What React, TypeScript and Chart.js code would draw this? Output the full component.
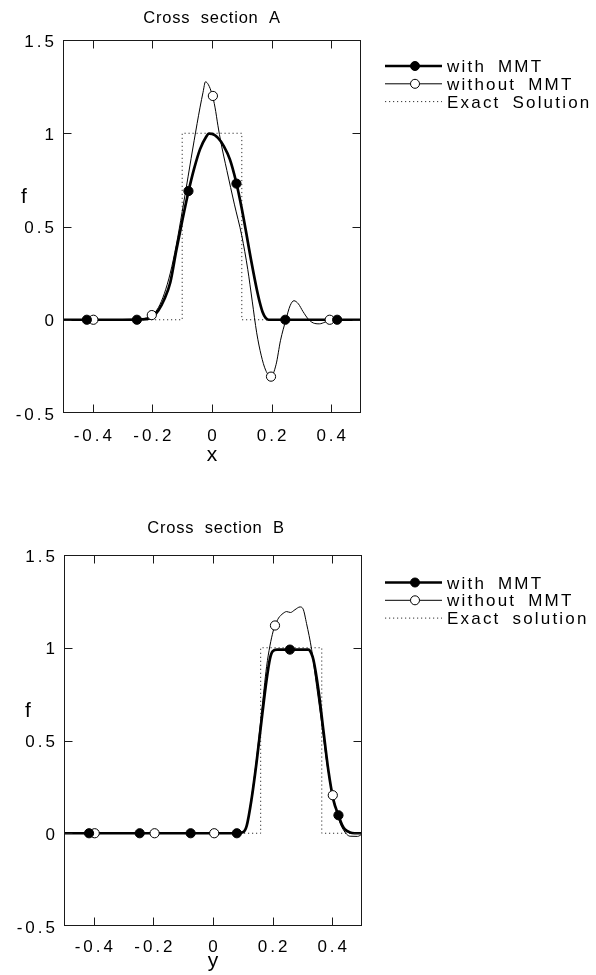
import React, { useEffect, useRef } from "react";
import { Chart, registerables } from "chart.js";

Chart.register(...registerables);

// ---------- axis ticks ----------
const xTickValues = [-0.4, -0.2, 0, 0.2, 0.4];
const xTickLabels = ["-0.4", "-0.2", "0", "0.2", "0.4"];
const yTickValues = [-0.5, 0, 0.5, 1, 1.5];
const yTickLabels = ["-0.5", "0", "0.5", "1", "1.5"];

// ---------- Cross section A ----------
const aWithX = [-0.5, -0.3, -0.22, -0.2, -0.18, -0.16, -0.14, -0.12, -0.1, -0.08, -0.06, -0.04, -0.02, -0.01, 0, 0.02, 0.04, 0.06, 0.08, 0.1, 0.12, 0.13, 0.14, 0.15, 0.16, 0.17, 0.18, 0.19, 0.3, 0.5];
const aWithF = [0, 0, 0.003, 0.015, 0.05, 0.11, 0.2, 0.37, 0.53, 0.68, 0.81, 0.915, 0.98, 0.998, 0.997, 0.975, 0.93, 0.86, 0.745, 0.595, 0.42, 0.33, 0.245, 0.165, 0.095, 0.04, 0.01, 0, 0, 0];
const aWithoutX = [-0.5, -0.3, -0.24, -0.22, -0.2, -0.18, -0.16, -0.14, -0.12, -0.1, -0.08, -0.06, -0.04, -0.03, -0.022, -0.012, 0, 0.01, 0.02, 0.03, 0.05, 0.075, 0.1, 0.12, 0.135, 0.15, 0.165, 0.18, 0.198, 0.215, 0.23, 0.248, 0.262, 0.275, 0.29, 0.305, 0.325, 0.345, 0.36, 0.38, 0.395, 0.42, 0.5];
const aWithoutF = [0, 0, 0.003, 0.01, 0.025, 0.065, 0.14, 0.25, 0.4, 0.58, 0.77, 0.96, 1.14, 1.22, 1.276, 1.26, 1.21, 1.14, 1.04, 0.95, 0.8, 0.62, 0.45, 0.27, 0.1, -0.07, -0.19, -0.27, -0.305, -0.24, -0.11, 0, 0.075, 0.102, 0.085, 0.045, 0, -0.02, -0.022, -0.012, 0, 0, 0];
const aExactX = [-0.5, -0.1, -0.1, 0.1, 0.1, 0.5];
const aExactF = [0, 0, 1, 1, 0, 0];
const aWithMarkX = [-0.42, -0.252, -0.079, 0.082, 0.246, 0.42];
const aWithMarkF = [0, 0, 0.69, 0.73, 0, 0];
const aWithoutMarkX = [-0.398, -0.202, 0.003, 0.198, 0.395];
const aWithoutMarkF = [0, 0.025, 1.2, -0.305, 0];
const aLegend = ["with MMT", "without MMT", "Exact Solution"];

// ---------- Cross section B ----------
const bWithX = [-0.5, 0.08, 0.1, 0.113, 0.129, 0.146, 0.163, 0.18, 0.191, 0.2, 0.215, 0.26, 0.32, 0.33, 0.337, 0.354, 0.37, 0.387, 0.404, 0.421, 0.433, 0.443, 0.46, 0.475, 0.5];
const bWithF = [0, 0, 0.005, 0.04, 0.18, 0.38, 0.61, 0.83, 0.94, 0.98, 0.99, 0.99, 0.99, 0.97, 0.935, 0.77, 0.56, 0.34, 0.18, 0.097, 0.045, 0.02, 0.004, 0, 0];
const bWithoutX = [-0.5, 0.08, 0.1, 0.113, 0.129, 0.146, 0.163, 0.18, 0.191, 0.202, 0.208, 0.22, 0.235, 0.247, 0.26, 0.275, 0.292, 0.302, 0.314, 0.331, 0.348, 0.365, 0.381, 0.402, 0.421, 0.437, 0.46, 0.485, 0.5];
const bWithoutF = [0, 0, 0.005, 0.04, 0.19, 0.4, 0.65, 0.9, 1.01, 1.09, 1.12, 1.16, 1.185, 1.195, 1.19, 1.205, 1.22, 1.21, 1.13, 0.99, 0.79, 0.59, 0.39, 0.205, 0.08, 0.02, -0.016, -0.017, -0.005];
const bExactX = [-0.5, 0.16, 0.16, 0.365, 0.365, 0.5];
const bExactF = [0, 0, 1, 1, 0, 0];
const bWithMarkX = [-0.416, -0.246, -0.075, 0.08, 0.258, 0.421];
const bWithMarkF = [0, 0, 0, 0, 0.99, 0.097];
const bWithoutMarkX = [-0.397, -0.196, 0.004, 0.208, 0.402];
const bWithoutMarkF = [0, 0, 0, 1.12, 0.205];
const bLegend = ["with MMT", "without MMT", "Exact solution"];

const FONT = '"Liberation Sans", Arial, Helvetica, sans-serif';

const pts = (xs: number[], ys: number[]) => xs.map((x, i) => ({ x, y: ys[i] }));

const decorPlugin = {
  id: "decor",
  afterDraw(chart: any, _args: any, o: any) {
    const { ctx, chartArea: ca, scales } = chart;
    const xs = scales.x;
    const ys = scales.y;
    ctx.save();
    // frame
    ctx.strokeStyle = "#1a1a1a";
    ctx.lineWidth = 1;
    const L = Math.round(ca.left) + 0.5;
    const T = Math.round(ca.top) + 0.5;
    const R = Math.round(ca.right) - 0.5;
    const B = Math.round(ca.bottom) - 0.5;
    ctx.strokeRect(L, T, R - L, B - T);
    // inner ticks
    ctx.beginPath();
    xTickValues.forEach((v) => {
      const px = Math.round(xs.getPixelForValue(v)) + 0.5;
      ctx.moveTo(px, B);
      ctx.lineTo(px, B - 8);
      ctx.moveTo(px, T);
      ctx.lineTo(px, T + 8);
    });
    yTickValues.forEach((v) => {
      if (v <= -0.5 || v >= 1.5) return;
      const py = Math.round(ys.getPixelForValue(v)) + 0.5;
      ctx.moveTo(L, py);
      ctx.lineTo(L + 8, py);
      ctx.moveTo(R, py);
      ctx.lineTo(R - 8, py);
    });
    ctx.stroke();

    ctx.fillStyle = "#000";
    ctx.textBaseline = "alphabetic";
    // tick labels
    ctx.font = `17px ${FONT}`;
    ctx.letterSpacing = "3px";
    ctx.textAlign = "center";
    xTickValues.forEach((v, i) => {
      ctx.fillText(xTickLabels[i], xs.getPixelForValue(v) + 1.5, ca.bottom + o.xTickDy);
    });
    ctx.textAlign = "right";
    yTickValues.forEach((v, i) => {
      ctx.fillText(yTickLabels[i], ca.left - 6, ys.getPixelForValue(v) + 6.5);
    });
    // axis titles
    ctx.letterSpacing = "0px";
    ctx.font = `21px ${FONT}`;
    ctx.textAlign = "center";
    ctx.fillText(o.xTitle, xs.getPixelForValue(0), ca.bottom + o.xTitleDy);
    ctx.fillText("f", o.fX, ys.getPixelForValue(0.67) + 8);
    // title
    ctx.font = `16.5px ${FONT}`;
    ctx.letterSpacing = "0.8px";
    ctx.wordSpacing = "5px";
    ctx.fillText(o.title, xs.getPixelForValue(0) + o.titleDx, o.titleY);
    // legend
    ctx.font = `17px ${FONT}`;
    ctx.letterSpacing = "2.2px";
    ctx.wordSpacing = "5px";
    ctx.textAlign = "left";
    const lx0 = 385;
    const lx1 = 442;
    const mx = 415;
    o.legend.forEach((label: string, i: number) => {
      const y = ca.top + o.legendDy + i * 17.8;
      ctx.save();
      ctx.strokeStyle = "#000";
      if (i === 0) ctx.lineWidth = 2.5;
      else if (i === 1) ctx.lineWidth = 1;
      else {
        ctx.lineWidth = 1;
        ctx.setLineDash([1.2, 2.8]);
        ctx.strokeStyle = "#333";
      }
      ctx.beginPath();
      ctx.moveTo(lx0, y);
      ctx.lineTo(lx1, y);
      ctx.stroke();
      ctx.setLineDash([]);
      if (i < 2) {
        ctx.beginPath();
        ctx.arc(mx, y, 4.5, 0, Math.PI * 2);
        ctx.fillStyle = i === 0 ? "#000" : "#fff";
        ctx.fill();
        ctx.lineWidth = 1;
        ctx.strokeStyle = "#000";
        ctx.stroke();
      }
      ctx.restore();
      ctx.fillText(label, 447, y + 6);
    });
    ctx.restore();
  },
};

type Props = {
  height: number;
  padding: { left: number; right: number; top: number; bottom: number };
  title: string;
  titleY: number;
  titleDx: number;
  xTitle: string;
  xTickDy: number;
  xTitleDy: number;
  fX: number;
  legend: string[];
  legendDy: number;
  withX: number[];
  withF: number[];
  withoutX: number[];
  withoutF: number[];
  exactX: number[];
  exactF: number[];
  withMarkX: number[];
  withMarkF: number[];
  withoutMarkX: number[];
  withoutMarkF: number[];
};

function CrossSection(p: Props) {
  const ref = useRef<HTMLCanvasElement>(null);
  useEffect(() => {
    const chart = new Chart(ref.current as HTMLCanvasElement, {
      type: "line",
      data: {
        datasets: [
          {
            label: "with MMT markers",
            data: pts(p.withMarkX, p.withMarkF),
            showLine: false,
            pointRadius: 4.6,
            pointBackgroundColor: "#000",
            pointBorderColor: "#000",
            pointBorderWidth: 1,
          },
          {
            label: "without MMT markers",
            data: pts(p.withoutMarkX, p.withoutMarkF),
            showLine: false,
            pointRadius: 4.6,
            pointBackgroundColor: "#fff",
            pointBorderColor: "#000",
            pointBorderWidth: 1,
          },
          {
            label: "with MMT",
            data: pts(p.withX, p.withF),
            borderColor: "#000",
            borderWidth: 2.7,
            pointRadius: 0,
            cubicInterpolationMode: "monotone",
            borderJoinStyle: "round",
          },
          {
            label: "without MMT",
            data: pts(p.withoutX, p.withoutF),
            borderColor: "#000",
            borderWidth: 1,
            pointRadius: 0,
            cubicInterpolationMode: "monotone",
          },
          {
            label: "Exact",
            data: pts(p.exactX, p.exactF),
            borderColor: "#333",
            borderWidth: 1,
            borderDash: [1.2, 2.8],
            pointRadius: 0,
            tension: 0,
          },
        ],
      },
      options: {
        responsive: false,
        animation: false,
        devicePixelRatio: 1,
        events: [],
        layout: { padding: p.padding },
        plugins: {
          legend: { display: false },
          tooltip: { enabled: false },
          title: { display: false },
          decor: {
            title: p.title,
            titleY: p.titleY,
            titleDx: p.titleDx,
            xTitle: p.xTitle,
            xTickDy: p.xTickDy,
            xTitleDy: p.xTitleDy,
            fX: p.fX,
            legend: p.legend,
            legendDy: p.legendDy,
          },
        } as any,
        scales: {
          x: { type: "linear", min: -0.5, max: 0.5, display: false },
          y: { type: "linear", min: -0.5, max: 1.5, display: false },
        },
      },
      plugins: [decorPlugin],
    });
    return () => chart.destroy();
  }, []);
  return <canvas ref={ref} width={596} height={p.height} style={{ display: "block" }} />;
}

export default function App() {
  return (
    <div style={{ position: "absolute", left: 0, top: 0, width: 596, background: "#fff" }}>
      <CrossSection
        height={487}
        padding={{ left: 63, right: 235, top: 40, bottom: 74 }}
        title="Cross section A"
        titleY={22.5}
        titleDx={0}
        xTitle="x"
        xTickDy={28}
        xTitleDy={48}
        fX={24}
        legend={aLegend}
        legendDy={26}
        withX={aWithX}
        withF={aWithF}
        withoutX={aWithoutX}
        withoutF={aWithoutF}
        exactX={aExactX}
        exactF={aExactF}
        withMarkX={aWithMarkX}
        withMarkF={aWithMarkF}
        withoutMarkX={aWithoutMarkX}
        withoutMarkF={aWithoutMarkF}
      />
      <CrossSection
        height={488}
        padding={{ left: 64, right: 234, top: 68, bottom: 49 }}
        title="Cross section B"
        titleY={46}
        titleDx={3}
        xTitle="y"
        xTickDy={26}
        xTitleDy={41}
        fX={28}
        legend={bLegend}
        legendDy={27.5}
        withX={bWithX}
        withF={bWithF}
        withoutX={bWithoutX}
        withoutF={bWithoutF}
        exactX={bExactX}
        exactF={bExactF}
        withMarkX={bWithMarkX}
        withMarkF={bWithMarkF}
        withoutMarkX={bWithoutMarkX}
        withoutMarkF={bWithoutMarkF}
      />
    </div>
  );
}
